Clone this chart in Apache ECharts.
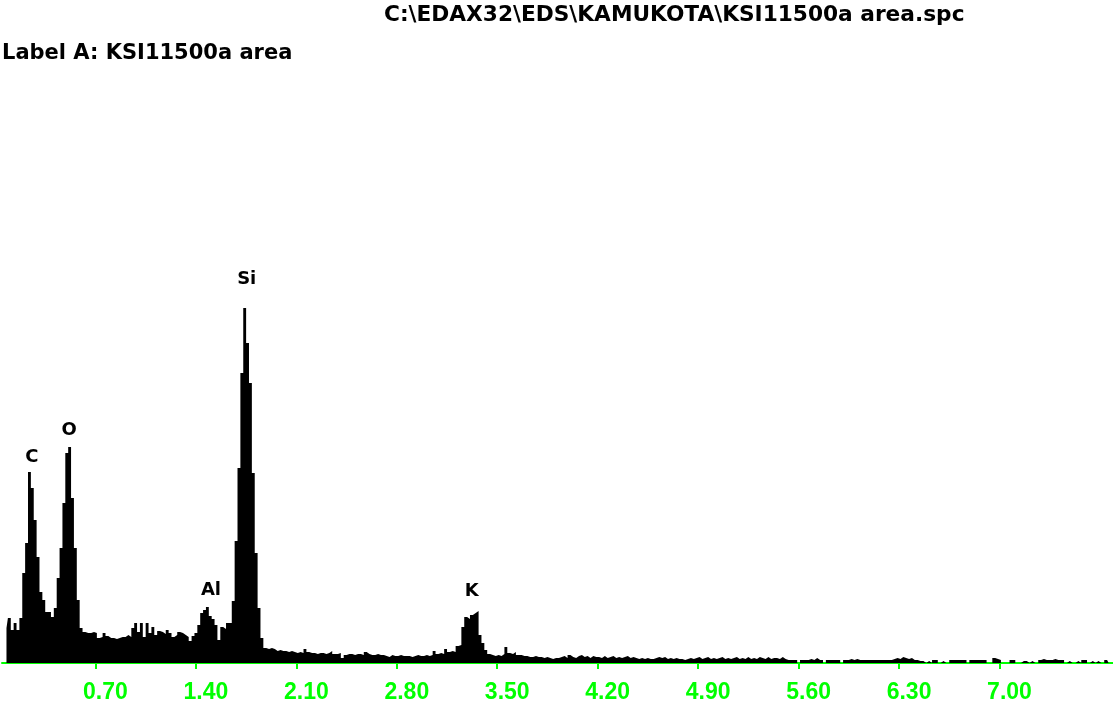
<!DOCTYPE html>
<html>
<head>
<meta charset="utf-8">
<script src="https://cdn.jsdelivr.net/npm/echarts@6/dist/echarts.min.js"></script>
<style>
  html, body { margin: 0; padding: 0; background: #fff; }
  #mycharts { width: 1113px; height: 704px; }
</style>
</head>
<body>
<div id="mycharts"></div>
<script>
// EDS spectrum, 0.02 keV channels, counts
var channelWidth = 0.02;
var segmentStart = [0.08, 1.08, 1.96, 3.96];

// 0.08 - 1.06 keV (C, O)
var countsLow = [
  35, 45, 33, 40, 33, 45, 90, 120, 191, 175,
  143, 106, 71, 63, 51, 51, 46, 55, 85, 115,
  160, 210, 216, 165, 115, 63, 35, 31, 30, 30,
  31, 30, 25, 26, 30, 27, 25, 25, 24, 25,
  26, 26, 28, 26, 35, 40, 31, 40, 26, 40
];
// 1.08 - 1.94 keV (Al, Si)
var countsSi = [
  30, 36, 28, 32, 31, 29, 33, 30, 26, 28,
  31, 30, 28, 26, 22, 27, 30, 38, 50, 53,
  56, 47, 44, 38, 23, 36, 34, 40, 40, 62,
  122, 195, 290, 355, 320, 280, 190, 110, 55, 25,
  15, 14, 15, 14
];
// 1.96 - 3.94 keV (K)
var countsK = [
  12, 13, 12, 12, 11, 12, 11, 10, 11, 10,
  14, 11, 10, 10, 9, 10, 10, 9, 10, 12,
  9, 9, 10, 5, 8, 9, 9, 8, 9, 9,
  8, 11, 9, 8, 8, 9, 8, 8, 7, 6,
  8, 7, 7, 8, 7, 7, 7, 6, 7, 8,
  7, 7, 8, 7, 8, 12, 9, 10, 9, 14,
  11, 12, 11, 17, 18, 36, 46, 44, 48, 50,
  52, 28, 20, 13, 9, 8, 7, 8, 7, 9,
  16, 10, 9, 11, 8, 8, 7, 7, 6, 6,
  7, 6, 6, 5, 6, 5, 4, 5, 5, 6
];
// 3.96 - 7.78 keV
var countsTail = [
  7, 5, 8, 6, 5, 7,
  8, 6, 7, 5, 7, 6, 6,
  5, 7, 5, 6, 7, 5, 6, 5, 6, 7, 5, 6,
  5, 4, 5, 4, 5, 4, 4, 5,
  6, 5, 6, 4, 5,
  4, 5, 4, 4, 3, 4, 5, 4,
  5, 6, 4, 5, 6, 4, 5,
  4, 5, 6, 4, 5, 4, 5, 6, 4, 5,
  4, 6, 4, 5, 4, 6, 5, 4, 6, 4, 5, 5, 4, 6, 4, 3,
  3, 3, 3, 0,
  3, 3, 3, 4, 3, 5, 3, 3, 0,
  3, 3, 3, 3, 3, 0,
  3, 3, 4, 3, 4, 3,
  3, 3, 3, 3, 3, 3, 3, 3, 3, 3, 3,
  4, 5, 4, 6, 5, 4, 5, 3, 3,
  2, 2, 0, 2, 0, 3, 3, 0, 2, 0, 0,
  3, 3, 3, 3, 3, 3, 0,
  3, 3, 3, 3, 3, 3, 0, 0,
  5, 4, 3, 0, 0, 0, 3, 3, 0, 0, 2, 2,
  0, 2, 0, 0,
  3, 4, 3, 3, 3, 4, 3, 3, 3,
  0, 2, 0, 0, 2, 0, 3, 3, 0, 2,
  0, 2, 0, 0, 3, 3
];

var tickEnergies = [0.7, 1.4, 2.1, 2.8, 3.5, 4.2, 4.9, 5.6, 6.3, 7.0];

var peakNames = ["C", "O", "Al", "Si", "K"];
var peakLabelEnergy = [0.256, 0.516, 1.505, 1.754, 3.322];
var peakLabelCount = [206, 233, 73, 384, 72];

var segments = [countsLow, countsSi, countsK, countsTail];
var spectrum = [];
segments.forEach(function (seg, s) {
  seg.forEach(function (c, i) {
    spectrum.push([+(segmentStart[s] + i * channelWidth).toFixed(3), c]);
  });
});

var peakLabels = peakNames.map(function (n, i) {
  return { name: n, value: [peakLabelEnergy[i], peakLabelCount[i]] };
});

var myCharts = echarts.init(document.getElementById("mycharts"));

var xMin = 0.0488;
var xMax = 7.791;

var option = {
  animation: false,
  backgroundColor: "#fff",
  title: [
    {
      text: "C:\\EDAX32\\EDS\\KAMUKOTA\\KSI11500a area.spc",
      left: 384,
      top: 4,
      padding: 0,
      textStyle: { fontFamily: "DejaVu Sans", fontWeight: "bold", fontSize: 21.7, color: "#000" }
    },
    {
      text: "Label A: KSI11500a area",
      left: 2,
      top: 43,
      padding: 0,
      textStyle: { fontFamily: "DejaVu Sans", fontWeight: "bold", fontSize: 21, color: "#000" }
    }
  ],
  grid: { left: 2, right: 0, top: 63, bottom: 41 },
  xAxis: [
    {
      type: "value",
      min: xMin,
      max: xMax,
      offset: 6,
      splitLine: { show: false },
      axisLine: { show: true, lineStyle: { color: "#00ff00", width: 2 } },
      axisTick: {
        show: true,
        length: 3,
        customValues: tickEnergies,
        lineStyle: { color: "#00ff00", width: 2 }
      },
      axisLabel: {
        customValues: tickEnergies,
        margin: 12,
        padding: [0, 0, 0, 20],
        color: "#00ff00",
        fontFamily: "Liberation Sans",
        fontWeight: "bold",
        fontSize: 23,
        formatter: function (v) { return v.toFixed(2); }
      }
    },
    {
      type: "value",
      min: xMin,
      max: xMax,
      offset: 6,
      position: "bottom",
      splitLine: { show: false },
      axisLine: { show: false },
      axisTick: {
        show: true,
        inside: true,
        length: 4,
        customValues: tickEnergies,
        lineStyle: { color: "#00ff00", width: 2 }
      },
      axisLabel: { show: false }
    }
  ],
  yAxis: {
    type: "value",
    min: 0,
    max: 600,
    show: false,
    splitLine: { show: false }
  },
  series: [
    {
      name: "spectrum",
      type: "line",
      step: "middle",
      symbol: "none",
      silent: true,
      data: spectrum,
      lineStyle: { width: 0, opacity: 0 },
      areaStyle: { color: "#000", opacity: 1 }
    },
    {
      name: "peaks",
      type: "scatter",
      silent: true,
      symbolSize: 1,
      itemStyle: { color: "#fff", opacity: 1 },
      data: peakLabels,
      label: {
        show: true,
        position: "inside",
        formatter: "{b}",
        color: "#000",
        opacity: 1,
        textBorderWidth: 0,
        fontFamily: "DejaVu Sans",
        fontWeight: "bold",
        fontSize: 18
      }
    }
  ]
};

myCharts.setOption(option);
</script>
</body>
</html>
